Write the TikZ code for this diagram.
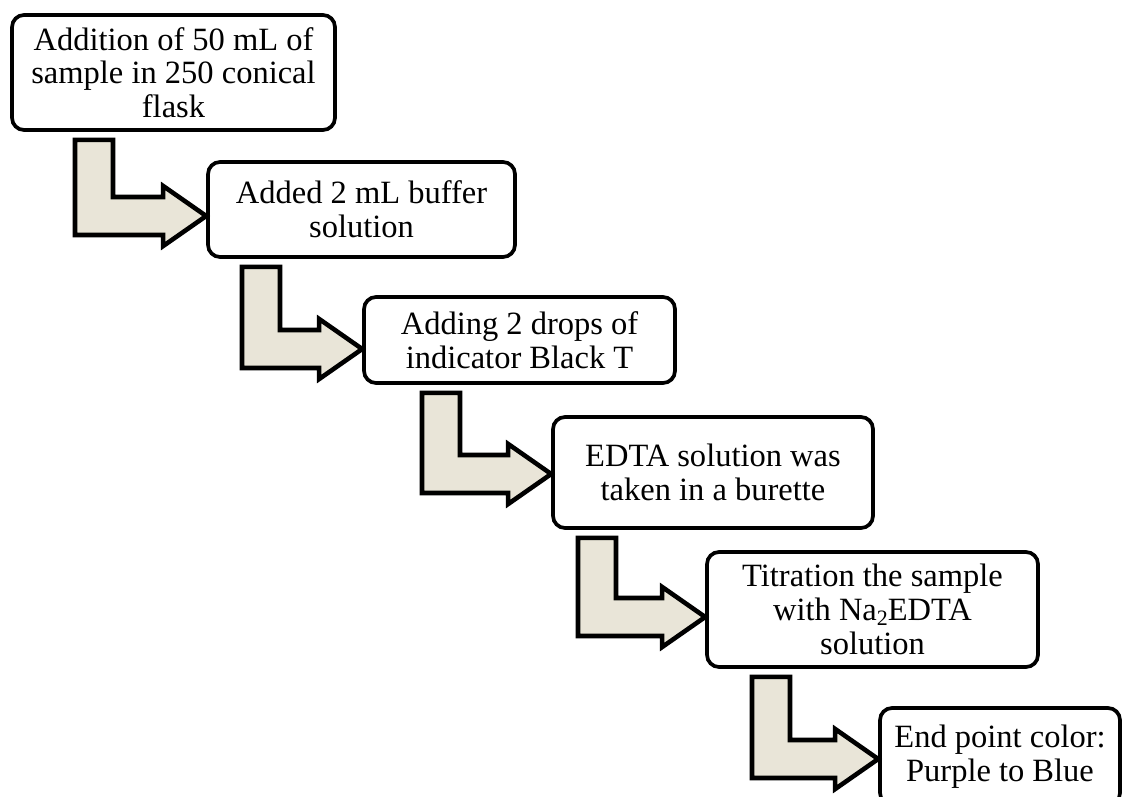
\documentclass[tikz,border=0pt]{standalone}
\usepackage{fontspec}
\setmainfont{Liberation Serif}
\usetikzlibrary{calc}
\definecolor{arrowfill}{RGB}{233,229,216}
\tikzset{
  stepbox/.style={draw=black, line width=2.1pt, rounded corners=0.24cm, fill=white,
    align=center, inner sep=0pt, font=\fontsize{18.5}{19.2}\selectfont},
  elbow/.style={draw=black, line width=2.6pt, fill=arrowfill, line join=miter},
}
\newcommand\subtwo{\raisebox{-0.3ex}{\fontsize{12.5}{12.5}\selectfont 2}}
% elbow arrow: #1 source box, #2 target box, #3 stem left x, #4 bar top y
\newcommand\elbowarrow[4]{%
  \coordinate (st) at (#3,#4);
  \path (st |- #1.south) ++(0,8) coordinate (p0);
  \path (st) ++(38,0) coordinate (p2);
  \path (#2.west |- st) ++(0,19) coordinate (tip);
  \draw[elbow] (p0) -- (p0 -| p2) -- (p2) -- ($(tip)+(-43,-19)$) -- ($(tip)+(-43,-30)$)
    -- (tip) -- ($(tip)+(-43,30)$) -- ($(tip)+(-43,19)$) -- ($(st)+(0,38)$) -- cycle;
}
\begin{document}
\begin{tikzpicture}[x=0.02cm, y=-0.02cm]
  \useasboundingbox (0,0) rectangle (1122,797);
  \node[stepbox, minimum width=6.46cm, minimum height=2.30cm] (b1) at (173.5,72.5)
    {Addition of 50 mL of\\sample in 250 conical\\flask};
  \node[stepbox, minimum width=6.14cm, minimum height=1.90cm] (b2) at (361.5,209.5)
    {Added 2 mL buffer\\solution};
  \node[stepbox, minimum width=6.22cm, minimum height=1.72cm] (b3) at (519.5,340)
    {Adding 2 drops of\\indicator Black T};
  \node[stepbox, minimum width=6.40cm, minimum height=2.22cm] (b4) at (713,472.5)
    {EDTA solution was\\taken in a burette};
  \node[stepbox, minimum width=6.62cm, minimum height=2.30cm] (b5) at (872.5,609.5)
    {Titration the sample\\with Na\subtwo EDTA\\solution};
  \node[stepbox, minimum width=4.80cm, minimum height=1.94cm] (b6) at (1000,756.5)
    {End point color:\\Purple to Blue};

  \elbowarrow{b1}{b2}{75}{197}
  \elbowarrow{b2}{b3}{242}{330}
  \elbowarrow{b3}{b4}{422}{455}
  \elbowarrow{b4}{b5}{578}{598}
  \elbowarrow{b5}{b6}{752}{740}
\end{tikzpicture}
\end{document}
